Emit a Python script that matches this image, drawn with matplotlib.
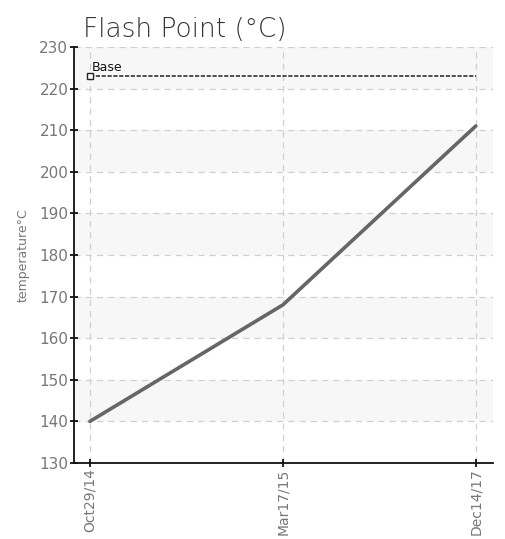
import matplotlib
matplotlib.use("Agg")
import matplotlib.pyplot as plt

dates = ["Oct29/14", "Mar17/15", "Dec14/17"]
flash_point = [140, 168, 211]
base_value = 223
y_ticks = list(range(130, 231, 10))

fig = plt.figure(figsize=(5.06, 5.39), dpi=100)
ax = fig.add_axes([0.146, 0.141, 0.828, 0.772])

x = list(range(len(dates)))

# alternating bands
for lo in range(140, 230, 20):
    ax.axhspan(lo, lo + 10, color="#f7f7f7", zorder=0, lw=0)

ax.grid(True, color="#d0d0d0", linestyle=(0, (5, 4)), linewidth=0.9, zorder=1)

ax.plot(x, flash_point, color="#666666", linewidth=2.6, solid_capstyle="round", zorder=3)

ax.plot([x[0], x[-1]], [base_value, base_value], color="#333333", linewidth=1.2,
        linestyle=(0, (2.5, 1)), zorder=3)
ax.plot([x[0]], [base_value], marker="s", markersize=4.5, markerfacecolor="white",
        markeredgecolor="#222222", markeredgewidth=1.0, zorder=4)
ax.text(x[0] + 0.01, base_value + 0.4, "Base", fontsize=9, color="#111111",
        va="bottom", ha="left", zorder=5)

ax.set_xlim(-0.083, 2.088)
ax.set_ylim(130, 230)
ax.set_yticks(y_ticks)
ax.set_xticks(x)
ax.set_xticklabels(dates, rotation=90, fontsize=10)

for s in ["top", "right"]:
    ax.spines[s].set_visible(False)
for s in ["left", "bottom"]:
    ax.spines[s].set_color("#111111")
    ax.spines[s].set_linewidth(1.3)

ax.tick_params(axis="both", direction="inout", length=6, width=1.3, color="#111111",
               labelcolor="#777777", pad=1)
ax.tick_params(axis="y", labelsize=11)

ax.set_ylabel("temperature°C", fontsize=9, color="#777777", labelpad=7)
fig.text(0.164, 0.945, "Flash Point (°C)", fontsize=19, color="#333333",
         va="center", fontweight="light")

fig.savefig("out.png", dpi=100)
